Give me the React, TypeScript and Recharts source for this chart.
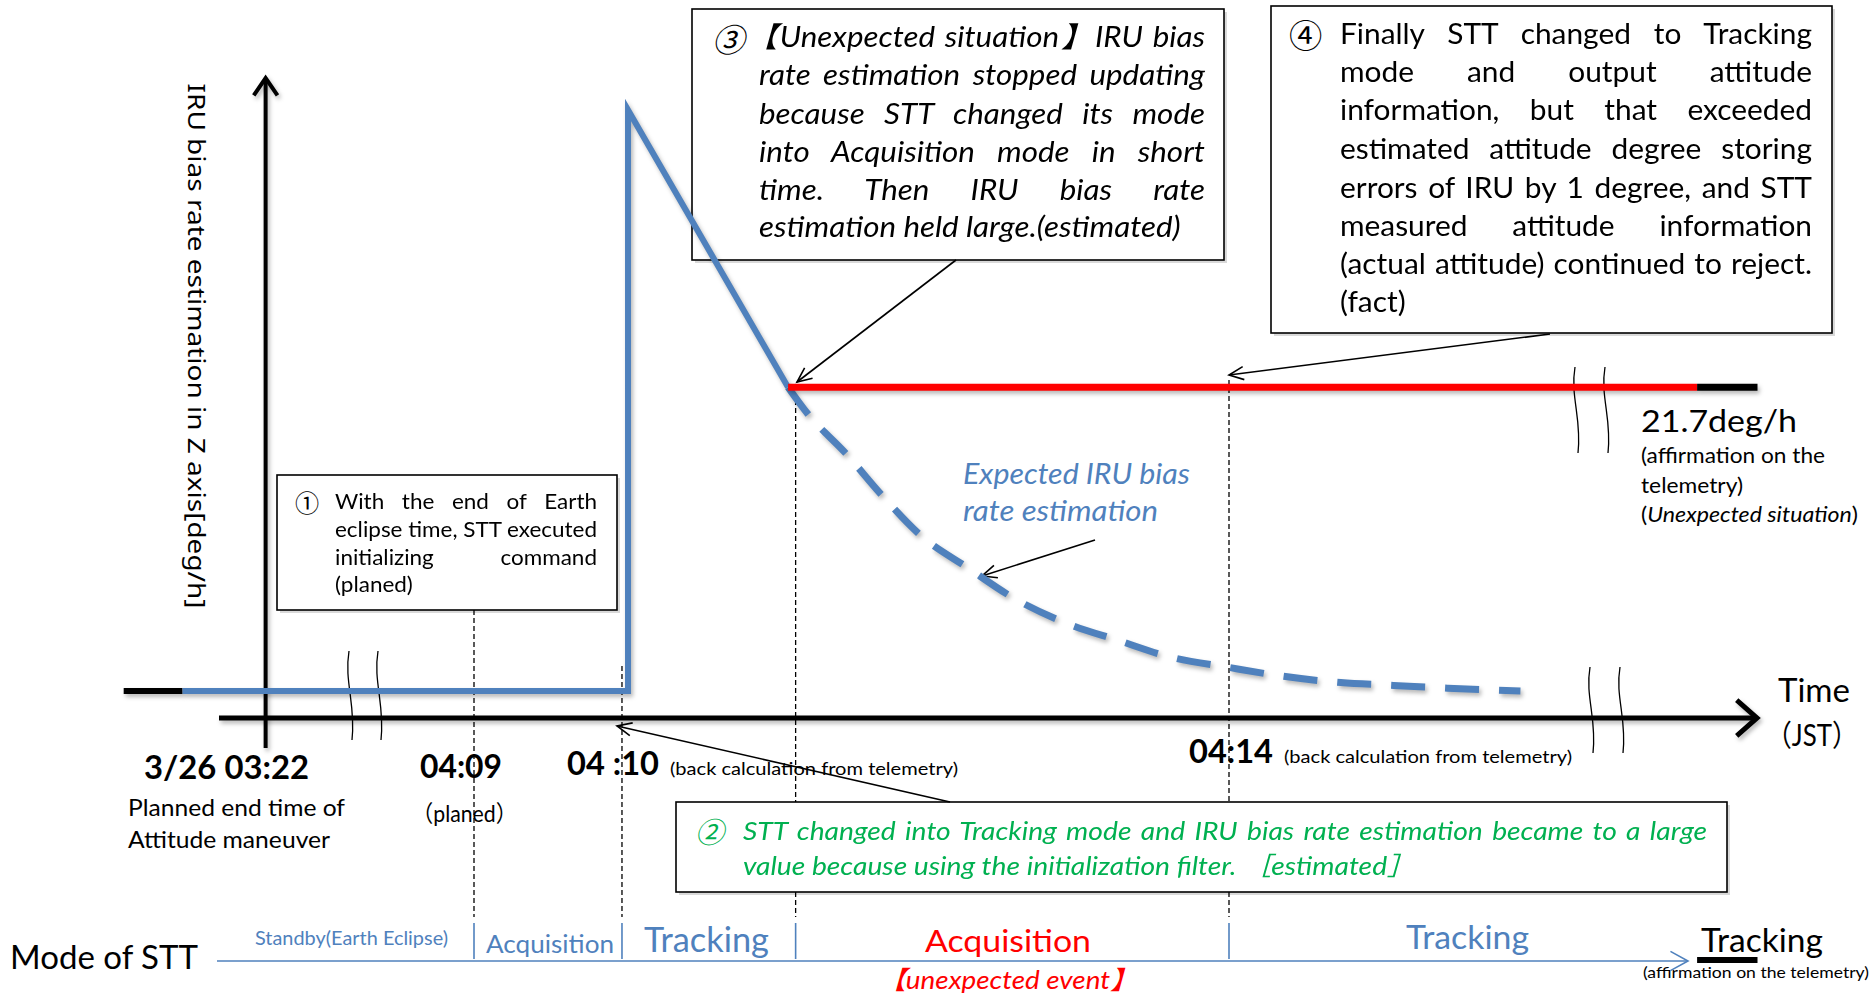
import React from 'react';
import { ComposedChart, Line, XAxis, YAxis, ReferenceLine, Customized } from 'recharts';

const W = 1874;
const H = 994;

// ---------------- data ----------------
// t: minutes after 04:00 on the drawn (broken) time axis, v: IRU bias rate estimation [deg/h]
const beforeStart = [{ t: 6.68, v: 0 }, { t: 7.07, v: 0 }];
const iruEstimate = [
  { t: 7.07, v: 0 },
  { t: 10.02, v: 0 },
  { t: 10.02, v: 41.5 },
  { t: 11.08, v: 21.7 },
];
const heldEstimate = [{ t: 11.08, v: 21.7 }, { t: 17.1, v: 21.7 }];
const telemetryValue = [{ t: 17.1, v: 21.7 }, { t: 17.5, v: 21.7 }];
const expectedEstimate = [
  { t: 11.08, v: 21.7 }, { t: 11.21, v: 19.8 }, { t: 11.46, v: 17.0 }, { t: 11.7, v: 14.0 },
  { t: 11.96, v: 11.1 }, { t: 12.27, v: 8.8 }, { t: 12.58, v: 6.6 }, { t: 12.91, v: 4.9 },
  { t: 13.27, v: 3.6 }, { t: 13.62, v: 2.4 }, { t: 13.99, v: 1.7 }, { t: 14.33, v: 1.1 },
  { t: 14.74, v: 0.6 }, { t: 15.09, v: 0.4 }, { t: 15.45, v: 0.2 }, { t: 15.93, v: 0 },
];
const maneuverEndT = 7.62; // 3/26 03:22 (before the axis break)
const modeChangeTimes = [9, 9.98, 11.13, 14.0];
const timeLabels = ['3/26 03:22', '04:09', '04 :10', '04:14'];
const timeNotes = ['Planned end time of', 'Attitude maneuver', '（planed）', '(back calculation from telemetry)'];
const modeNames = ['Standby(Earth Eclipse)', 'Acquisition', 'Tracking', 'Acquisition', 'Tracking', 'Tracking'];
const heldValueLabel = ['21.7deg/h', '(affirmation on the', 'telemetry)'];
const expectedLabel = ['Expected IRU bias', 'rate estimation'];
const yAxisTitle = 'IRU bias rate estimation  in Z axis[deg/h]';
const note1Lines = ['With the end of Earth', 'eclipse time, STT executed', 'initializing command', '(planed)'];
const note2Lines = [
  'STT changed into Tracking mode and IRU bias rate estimation became to a large',
  'value because using the initialization filter. ［estimated］',
];
const note3Lines = [
  '【Unexpected situation】IRU bias',
  'rate estimation stopped updating',
  'because STT changed its mode',
  'into Acquisition mode in short',
  'time. Then IRU bias rate',
  'estimation held large.(estimated)',
];
const note4Lines = [
  'Finally STT changed to Tracking',
  'mode and output attitude',
  'information, but that exceeded',
  'estimated attitude degree storing',
  'errors of IRU by 1 degree, and STT',
  'measured attitude information',
  '(actual attitude) continued to reject.',
  '(fact)',
];

// ---------------- layout ----------------
const PX_PER_MIN = 151;
const T_REF = 9;
const PX_REF = 474;
const X_MIN = T_REF - PX_REF / PX_PER_MIN;
const X_MAX = X_MIN + W / PX_PER_MIN;
const PX_PER_DEG = 14;
const ZERO_PX = 691;
const Y_MAX = ZERO_PX / PX_PER_DEG;
const Y_MIN = -(H - ZERO_PX) / PX_PER_DEG;
const tx = (px: number) => X_MIN + px / PX_PER_MIN;
const vy = (py: number) => (ZERO_PX - py) / PX_PER_DEG;

const BLUE = '#4F81BD';
const RED = '#FF0000';
const GREEN = '#00B050';
const FONT = "Lato, 'Noto Sans', 'DejaVu Sans', 'Noto Sans CJK JP', sans-serif";
const SHADOW = { filter: 'drop-shadow(2px 3px 2px rgba(0,0,0,0.28))' };

const BOXES = [
  { x: 277, y: 475, w: 340, h: 135 },
  { x: 692, y: 9, w: 532, h: 251 },
  { x: 1271, y: 6, w: 561, h: 327 },
  { x: 676, y: 802, w: 1051, h: 90 },
];

function arrowShape(width: number, head: number, spread: number, color = '#000', shadow = false) {
  return (p: any) => {
    const { x1, y1, x2, y2 } = p;
    const a = Math.atan2(y2 - y1, x2 - x1);
    const b1 = a + Math.PI - spread;
    const b2 = a + Math.PI + spread;
    const pts = `${x2 + head * Math.cos(b1)},${y2 + head * Math.sin(b1)} ${x2},${y2} ${x2 + head * Math.cos(b2)},${y2 + head * Math.sin(b2)}`;
    return (
      <g style={shadow ? SHADOW : undefined}>
        <line x1={x1} y1={y1} x2={x2 - Math.cos(a) * width * 0.5} y2={y2 - Math.sin(a) * width * 0.5} stroke={color} strokeWidth={width} />
        <polyline points={pts} fill="none" stroke={color} strokeWidth={width} strokeLinejoin="miter" />
      </g>
    );
  };
}

function Arrow({ x1, y1, x2, y2 }: { x1: number; y1: number; x2: number; y2: number }) {
  const a = Math.atan2(y2 - y1, x2 - x1);
  const head = 16;
  const s = 0.42;
  const p1 = [x2 + head * Math.cos(a + Math.PI - s), y2 + head * Math.sin(a + Math.PI - s)];
  const p2 = [x2 + head * Math.cos(a + Math.PI + s), y2 + head * Math.sin(a + Math.PI + s)];
  return (
    <g>
      <line x1={x1} y1={y1} x2={x2} y2={y2} stroke="#000" strokeWidth={1.6} />
      <polyline points={`${p1[0]},${p1[1]} ${x2},${y2} ${p2[0]},${p2[1]}`} fill="none" stroke="#000" strokeWidth={1.6} />
    </g>
  );
}

function BreakMark({ x, y1, y2 }: { x: number; y1: number; y2: number }) {
  const h = y2 - y1;
  return (
    <path
      d={`M ${x} ${y1} C ${x - 5} ${y1 + h * 0.35}, ${x + 7} ${y1 + h * 0.6}, ${x + 3} ${y2}`}
      fill="none"
      stroke="#000"
      strokeWidth={1.3}
    />
  );
}

type LabelSpec = {
  text: React.ReactNode;
  x: number;
  x2: number;
  cy: number;
  fs: number;
  bold?: boolean;
  italic?: boolean;
  color?: string;
};

function SvgLabel({ s }: { s: LabelSpec }) {
  return (
    <text
      x={s.x}
      y={s.cy + s.fs * 0.35}
      fontSize={s.fs}
      fontFamily={FONT}
      fontWeight={s.bold ? 700 : 400}
      fontStyle={s.italic ? 'italic' : 'normal'}
      fill={s.color ?? '#000'}
      textLength={s.x2 - s.x}
      lengthAdjust="spacingAndGlyphs"
    >
      {s.text}
    </text>
  );
}

const LABELS: LabelSpec[] = [
  { text: timeLabels[0], x: 144, x2: 309, cy: 768, fs: 32, bold: true },
  { text: timeLabels[1], x: 420, x2: 502, cy: 767, fs: 32, bold: true },
  { text: timeLabels[2], x: 567, x2: 659, cy: 764, fs: 32, bold: true },
  { text: timeLabels[3], x: 1189, x2: 1273, cy: 752, fs: 32, bold: true },
  { text: timeNotes[0], x: 128, x2: 345, cy: 808, fs: 23 },
  { text: timeNotes[1], x: 128, x2: 330, cy: 840, fs: 23 },
  { text: timeNotes[2], x: 412, x2: 517, cy: 814, fs: 23 },
  { text: timeNotes[3], x: 670, x2: 958, cy: 769, fs: 17 },
  { text: timeNotes[3], x: 1284, x2: 1572, cy: 757, fs: 17 },
  { text: 'Time', x: 1778, x2: 1850, cy: 691, fs: 32 },
  { text: '（JST）', x: 1766, x2: 1858, cy: 735, fs: 30 },
  { text: heldValueLabel[0], x: 1641, x2: 1797, cy: 421, fs: 31 },
  { text: heldValueLabel[1], x: 1641, x2: 1825, cy: 456, fs: 21 },
  { text: heldValueLabel[2], x: 1641, x2: 1743, cy: 486, fs: 21 },
  {
    text: (
      <>
        <tspan>(</tspan>
        <tspan fontStyle="italic">Unexpected situation</tspan>
        <tspan>)</tspan>
      </>
    ),
    x: 1641, x2: 1858, cy: 515, fs: 21,
  },
  { text: expectedLabel[0], x: 963, x2: 1190, cy: 474, fs: 28, italic: true, color: BLUE },
  { text: expectedLabel[1], x: 963, x2: 1158, cy: 511, fs: 28, italic: true, color: BLUE },
  { text: 'Mode of STT', x: 10, x2: 198, cy: 958, fs: 32 },
  { text: modeNames[0], x: 255, x2: 448, cy: 938, fs: 19, color: BLUE },
  { text: modeNames[1], x: 486, x2: 614, cy: 944, fs: 25, color: BLUE },
  { text: modeNames[2], x: 644, x2: 769, cy: 940, fs: 34, color: BLUE },
  { text: modeNames[3], x: 925, x2: 1091, cy: 941, fs: 30, color: RED },
  { text: '【unexpected event】', x: 878, x2: 1138, cy: 980, fs: 25, italic: true, color: RED },
  { text: modeNames[4], x: 1406, x2: 1529, cy: 938, fs: 32, color: BLUE },
  { text: modeNames[5], x: 1701, x2: 1823, cy: 941, fs: 32 },
  { text: '(affirmation on the telemetry)', x: 1643, x2: 1869, cy: 972, fs: 16 },
];

function BoxesLayer() {
  return (
    <g>
      {BOXES.map((b, i) => (
        <g key={i}>
          <rect x={b.x + 3} y={b.y + 3} width={b.w} height={b.h} fill="#000" opacity={0.15} />
          <rect x={b.x} y={b.y} width={b.w} height={b.h} fill="#fff" stroke="#000" strokeWidth={1.6} />
        </g>
      ))}
    </g>
  );
}

function AnnotationLayer() {
  return (
    <g>
      <BreakMark x={349} y1={651} y2={740} />
      <BreakMark x={378} y1={651} y2={740} />
      <BreakMark x={1590} y1={667} y2={753} />
      <BreakMark x={1620} y1={667} y2={753} />
      <BreakMark x={1575} y1={367} y2={453} />
      <BreakMark x={1605} y1={367} y2={453} />
      <Arrow x1={956} y1={260} x2={797} y2={382} />
      <Arrow x1={1550} y1={334} x2={1229} y2={375} />
      <Arrow x1={1095} y1={540} x2={982} y2={576} />
      <Arrow x1={950} y1={802} x2={617} y2={726} />
      {LABELS.map((s, i) => (
        <SvgLabel key={i} s={s} />
      ))}
      <text
        transform="translate(196, 346) rotate(90)"
        x={0}
        y={24 * 0.35}
        textAnchor="middle"
        fontSize={24}
        fontFamily="'Noto Sans', 'Open Sans', sans-serif"
        fill="#000"
        textLength={525}
        lengthAdjust="spacingAndGlyphs"
      >
        {yAxisTitle}
      </text>
    </g>
  );
}

function JLine({
  x0, x1, cy, fs, text, justify, italic, color, sx,
}: {
  x0: number; x1: number; cy: number; fs: number; text: string; justify: boolean; italic?: boolean; color?: string; sx: number;
}) {
  return (
    <div
      style={{
        position: 'absolute',
        left: x0,
        top: cy - fs * 0.667,
        width: (x1 - x0) / sx,
        height: fs * 1.2,
        lineHeight: `${fs * 1.2}px`,
        fontSize: fs,
        fontFamily: FONT,
        fontStyle: italic ? 'italic' : 'normal',
        color: color ?? '#000',
        whiteSpace: 'nowrap',
        textAlign: justify ? 'justify' : 'left',
        textAlignLast: justify ? 'justify' : 'left',
        transform: `scaleX(${sx})`,
        transformOrigin: '0 50%',
      }}
    >
      {text}
    </div>
  );
}

function Para({
  lines, x0, x1, cys, fs, italic, color, num, numX, sx, firstShift = 0,
}: {
  lines: string[]; x0: number; x1: number; cys: number[]; fs: number; italic?: boolean; color?: string; num: string; numX: number; sx: number; firstShift?: number;
}) {
  const nfs = fs * 1.15;
  return (
    <>
      <div
        style={{
          position: 'absolute',
          left: numX,
          top: cys[0] - nfs * 0.62,
          height: nfs * 1.2,
          lineHeight: `${nfs * 1.2}px`,
          fontSize: nfs,
          fontFamily: "'Noto Sans CJK JP', 'DejaVu Sans', sans-serif",
          fontStyle: italic ? 'italic' : 'normal',
          color: color ?? '#000',
        }}
      >
        {num}
      </div>
      {lines.map((l, i) => (
        <JLine
          key={i}
          x0={i === 0 ? x0 + firstShift : x0}
          x1={x1}
          cy={cys[i]}
          fs={fs}
          text={l}
          justify={i < lines.length - 1}
          italic={italic}
          color={color}
          sx={sx}
        />
      ))}
    </>
  );
}

const dashedV = (t: number, pyTop: number, pyBottom: number, key: string) => (
  <ReferenceLine
    key={key}
    segment={[{ x: t, y: vy(pyTop) }, { x: t, y: vy(pyBottom) }]}
    stroke="#000"
    strokeWidth={1.3}
    strokeDasharray="5 3"
  />
);

export default function App() {
  return (
    <div style={{ position: 'absolute', left: 0, top: 0, width: W, height: H, background: '#fff', overflow: 'hidden' }}>
      <ComposedChart width={W} height={H} margin={{ top: 0, right: 0, bottom: 0, left: 0 }}>
        <XAxis type="number" dataKey="t" domain={[X_MIN, X_MAX]} hide allowDataOverflow />
        <YAxis type="number" dataKey="v" domain={[Y_MIN, Y_MAX]} hide allowDataOverflow />
        <Customized component={BoxesLayer} />

        {dashedV(modeChangeTimes[0], 610, 917, 'd0')}
        {dashedV(modeChangeTimes[1], 666, 917, 'd1')}
        {dashedV(modeChangeTimes[2], 400, 802, 'd2a')}
        {dashedV(modeChangeTimes[2], 892, 917, 'd2b')}
        {dashedV(modeChangeTimes[3], 380, 802, 'd3a')}
        {dashedV(modeChangeTimes[3], 892, 917, 'd3b')}

        {modeChangeTimes.map((t, i) => (
          <ReferenceLine
            key={`m${i}`}
            segment={[{ x: t, y: vy(923) }, { x: t, y: vy(959) }]}
            stroke={BLUE}
            strokeWidth={1.6}
          />
        ))}
        <ReferenceLine
          segment={[{ x: tx(217), y: vy(961) }, { x: tx(1688), y: vy(961) }]}
          shape={arrowShape(1.6, 20, 0.5, BLUE)}
        />
        <ReferenceLine
          segment={[{ x: telemetryValue[0].t, y: vy(960) }, { x: telemetryValue[1].t, y: vy(960) }]}
          stroke="#000"
          strokeWidth={6}
        />

        <ReferenceLine
          segment={[{ x: tx(219), y: vy(718) }, { x: tx(1757), y: vy(718) }]}
          shape={arrowShape(5, 27, 0.72, '#000', true)}
        />
        <ReferenceLine
          segment={[{ x: maneuverEndT, y: vy(748) }, { x: maneuverEndT, y: vy(78) }]}
          shape={arrowShape(4, 21, 0.6, '#000', true)}
        />

        <Line data={beforeStart} dataKey="v" type="linear" stroke="#000" strokeWidth={6} dot={false} activeDot={false} isAnimationActive={false} style={SHADOW} />
        <Line data={expectedEstimate} dataKey="v" type="monotone" stroke={BLUE} strokeWidth={7} strokeDasharray="34 20" dot={false} activeDot={false} isAnimationActive={false} style={SHADOW} />
        <Line data={iruEstimate} dataKey="v" type="linear" stroke={BLUE} strokeWidth={6} dot={false} activeDot={false} isAnimationActive={false} style={SHADOW} />
        <Line data={heldEstimate} dataKey="v" type="linear" stroke={RED} strokeWidth={7} dot={false} activeDot={false} isAnimationActive={false} style={SHADOW} />
        <Line data={telemetryValue} dataKey="v" type="linear" stroke="#000" strokeWidth={7} dot={false} activeDot={false} isAnimationActive={false} style={SHADOW} />

        <Customized component={AnnotationLayer} />
      </ComposedChart>

      <Para lines={note1Lines} x0={335} x1={597} cys={[502, 530, 558, 585]} fs={21} num="①" numX={295} sx={1.07} />
      <Para lines={note3Lines} x0={759} x1={1205} cys={[39, 77, 116, 154, 192, 229]} fs={28} italic num="③" numX={712} sx={1.12} firstShift={-13} />
      <Para lines={note4Lines} x0={1340} x1={1812} cys={[35, 73, 111, 150, 189, 227, 265, 303]} fs={29} num="④" numX={1289} sx={1.03} />
      <Para lines={note2Lines} x0={743} x1={1707} cys={[832, 867]} fs={25} italic color={GREEN} num="②" numX={695} sx={1.13} />
    </div>
  );
}
